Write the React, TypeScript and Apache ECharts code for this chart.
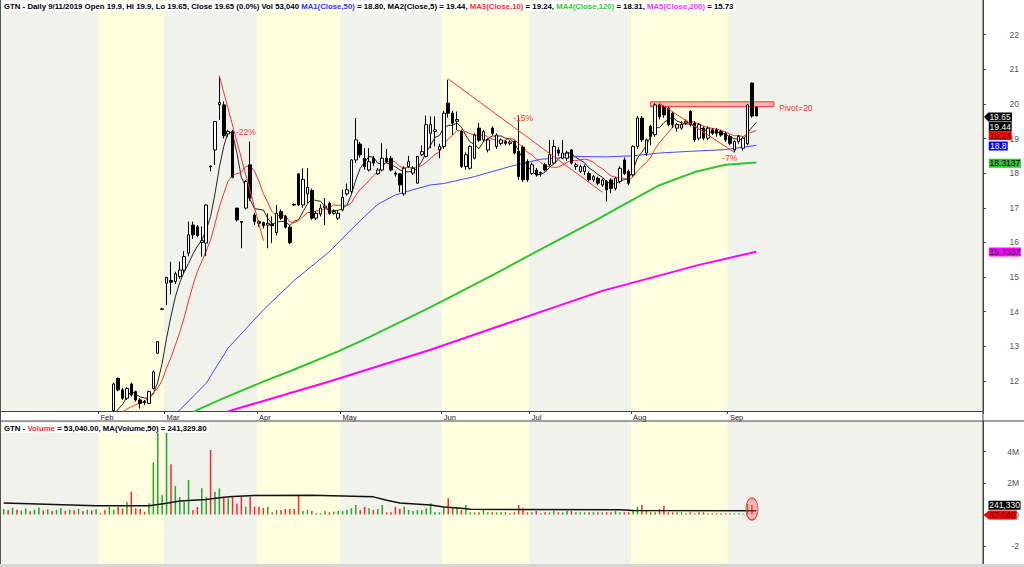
import React, { useEffect, useRef } from 'react';
import * as echarts from 'echarts';

const FONT = '"Liberation Sans", Arial, Helvetica, sans-serif';

// ---- time slots (trading days) per month; Sep row includes empty future slots
const months = ['Jan', 'Feb', 'Mar', 'Apr', 'May', 'Jun', 'Jul', 'Aug', 'Sep'];
const monthSlots = [22, 15, 21, 19, 23, 20, 23, 22, 58];

// ---- daily candles [open, close, low, high]; slots 0-24 lie below the visible price range
const candles: number[][] = [
  [9.6, 9.7, 9.5, 9.8], [9.7, 9.6, 9.5, 9.8], [9.6, 9.9, 9.55, 10.0], [9.9, 9.8, 9.7, 10.0],
  [9.8, 10.0, 9.75, 10.05], [10.0, 10.1, 9.9, 10.2], [10.1, 10.0, 9.9, 10.15], [10.0, 10.2, 9.95, 10.3],
  [10.2, 10.4, 10.1, 10.5], [10.4, 10.3, 10.2, 10.5], [10.3, 10.5, 10.25, 10.6], [10.5, 10.4, 10.3, 10.6],
  [10.4, 10.6, 10.35, 10.7], [10.6, 10.8, 10.5, 10.9], [10.8, 10.7, 10.6, 10.9], [10.7, 10.9, 10.65, 11.0],
  [10.9, 10.8, 10.7, 11.0], [10.8, 11.0, 10.75, 11.05], [11.0, 10.9, 10.8, 11.05], [10.9, 10.95, 10.8, 11.05],
  [10.95, 10.85, 10.75, 11.0], [10.85, 10.9, 10.7, 11.0], [10.9, 10.8, 10.7, 11.0], [10.8, 10.7, 10.6, 10.9],
  [10.7, 10.75, 10.6, 10.9],
  // 25 (Feb)
  [11.14, 11.91, 11.13, 11.95], [12.07, 11.74, 11.7, 12.1], [11.74, 11.5, 11.45, 11.8], [11.5, 11.78, 11.45, 11.82],
  [11.91, 11.59, 11.55, 11.95], [11.69, 11.45, 11.4, 11.72], [11.45, 11.35, 11.2, 11.5], [11.4, 11.37, 11.3, 11.45],
  [11.35, 11.69, 11.33, 11.72], [11.78, 12.26, 11.75, 12.3], [12.8, 13.13, 12.78, 13.15], [14.07, 14.08, 14.05, 14.1],
  // 37 (Mar)
  [14.82, 14.99, 14.19, 15.0], [14.9, 14.85, 14.5, 15.44], [14.87, 15.09, 14.8, 15.15], [15.01, 15.2, 14.95, 15.45],
  [15.2, 15.59, 15.1, 15.75], [15.69, 16.22, 15.6, 16.6], [16.5, 16.22, 16.1, 16.6], [16.45, 16.2, 16.15, 16.5],
  [16.0, 16.05, 15.59, 16.46], [15.98, 17.08, 15.6, 17.1], [18.2, 18.18, 18.05, 18.22], [18.67, 19.49, 18.24, 19.5],
  [19.98, 20.04, 19.54, 20.81], [19.97, 19.08, 19.0, 20.07], [19.13, 19.2, 19.05, 19.25], [19.2, 17.88, 17.85, 19.25],
  [16.99, 16.65, 16.6, 17.0], [16.6, 16.58, 15.83, 16.62], [16.99, 17.76, 16.95, 17.8], [18.24, 17.28, 17.2, 18.91],
  [16.79, 16.6, 16.5, 16.85],
  // 58 (Apr)
  [16.6, 16.55, 16.45, 16.65], [16.57, 16.48, 16.4, 16.6], [16.5, 16.55, 15.83, 16.84], [16.52, 16.48, 15.98, 16.75],
  [16.28, 16.84, 16.2, 17.08], [16.89, 16.7, 16.65, 16.95], [16.75, 16.44, 16.4, 16.8], [16.44, 15.99, 15.95, 16.5],
  [17.1, 17.08, 17.05, 17.12], [17.98, 17.08, 17.05, 18.0], [17.08, 17.82, 17.0, 18.14], [17.4, 17.59, 17.13, 18.14],
  [17.5, 16.7, 16.65, 17.55], [16.7, 16.84, 16.65, 16.9], [16.82, 16.99, 16.75, 17.1], [17.0, 17.05, 16.5, 17.28],
  [17.13, 16.84, 16.8, 17.18], [16.84, 16.89, 16.8, 16.95], [16.7, 16.84, 16.65, 16.9],
  // 77 (May)
  [16.94, 17.3, 16.9, 17.52], [17.4, 17.52, 17.35, 17.7], [17.47, 18.38, 17.4, 18.4], [18.38, 18.96, 18.3, 19.59],
  [18.84, 18.53, 18.45, 18.9], [18.43, 18.19, 18.1, 18.72], [18.09, 18.33, 18.05, 18.72], [18.43, 18.29, 18.2, 18.5],
  [17.98, 18.09, 17.95, 18.15], [18.09, 18.43, 18.05, 18.86], [18.43, 18.33, 18.3, 18.7], [18.43, 18.09, 18.05, 18.5],
  [18.0, 17.97, 17.9, 18.05], [17.98, 17.66, 17.45, 18.0], [17.4, 18.14, 17.35, 18.2], [18.19, 18.33, 18.15, 18.5],
  [18.0, 18.14, 17.95, 18.2], [17.71, 18.48, 17.7, 18.5], [18.53, 18.62, 18.5, 18.8], [18.48, 19.4, 18.45, 19.66],
  [19.15, 19.4, 18.72, 19.64], [19.2, 19.25, 18.77, 19.64], [18.67, 18.77, 18.43, 18.85],
  // 100 (Jun)
  [18.77, 19.73, 18.7, 19.8], [20.02, 19.73, 19.6, 20.7], [19.73, 19.44, 19.1, 19.8], [19.5, 19.55, 19.25, 19.78],
  [19.2, 18.19, 18.15, 19.25], [18.19, 18.53, 18.1, 18.6], [18.14, 18.77, 18.1, 18.8], [18.43, 19.1, 18.4, 19.15],
  [19.3, 18.95, 18.9, 19.45], [18.96, 19.2, 18.9, 19.25], [18.67, 18.96, 18.6, 19.0], [19.3, 19.15, 19.1, 19.35],
  [18.77, 19.1, 18.7, 19.15], [18.86, 18.96, 18.8, 19.0], [18.91, 18.86, 18.8, 18.95], [18.86, 18.9, 18.8, 18.95],
  [18.91, 18.58, 18.55, 18.95], [18.63, 17.9, 17.81, 19.64], [18.75, 17.81, 17.75, 18.8], [18.34, 17.81, 17.75, 18.4],
  // 120 (Jul)
  [17.99, 18.24, 17.95, 18.3], [18.09, 17.95, 17.9, 18.15], [18.0, 18.02, 17.9, 18.05], [18.24, 18.09, 18.05, 18.3],
  [18.24, 18.53, 18.2, 18.96], [18.29, 18.77, 18.25, 18.96], [18.67, 18.58, 18.5, 18.75], [18.43, 18.58, 18.4, 18.96],
  [18.43, 18.58, 18.35, 18.65], [18.67, 18.29, 18.25, 18.7], [18.19, 18.24, 18.1, 18.3], [18.05, 18.19, 18.0, 18.25],
  [18.05, 18.19, 17.95, 18.25], [17.99, 17.81, 17.75, 18.05], [17.81, 17.9, 17.75, 17.95], [17.85, 17.71, 17.65, 17.9],
  [17.66, 17.8, 17.6, 17.85], [17.76, 17.52, 17.18, 17.8], [17.8, 17.56, 17.42, 17.85], [17.56, 17.85, 17.5, 17.9],
  [17.76, 18.14, 17.7, 18.2], [18.38, 17.99, 17.95, 18.45], [18.05, 17.71, 17.65, 18.1],
  // 143 (Aug)
  [17.95, 18.77, 17.9, 18.8], [18.77, 19.59, 18.7, 19.65], [19.59, 18.96, 18.9, 19.65], [18.58, 18.96, 18.5, 19.0],
  [19.35, 19.06, 18.8, 19.4], [19.11, 19.97, 19.05, 20.02], [19.97, 19.63, 19.55, 20.0], [19.92, 19.68, 19.6, 19.97],
  [19.88, 19.4, 19.35, 19.92], [19.73, 19.4, 19.3, 19.78], [19.3, 19.4, 19.2, 19.45], [19.3, 19.4, 19.25, 19.5],
  [19.45, 19.5, 19.4, 19.55], [19.78, 19.4, 19.35, 19.82], [19.44, 18.96, 18.9, 19.5], [19.01, 19.4, 18.95, 19.45],
  [19.3, 19.01, 18.95, 19.35], [19.01, 19.3, 18.95, 19.35], [19.25, 19.15, 19.1, 19.3], [19.25, 19.15, 19.05, 19.3],
  [19.2, 19.1, 19.05, 19.25], [19.15, 18.96, 18.9, 19.2],
  // 165 (Sep)
  [19.06, 18.86, 18.8, 19.1], [18.67, 18.91, 18.6, 18.95], [18.91, 19.06, 18.85, 19.1], [18.72, 19.01, 18.65, 19.05],
  [18.85, 19.97, 18.8, 20.0], [20.6, 19.65, 19.6, 20.62], [19.9, 19.65, 19.65, 19.9],
];

// ---- daily volume, thousands of shares
const volumes: number[] = [
  350, 280, 420, 300, 250, 380, 200, 310, 450, 260, 330, 220, 290, 400, 240, 310, 270, 350, 230, 300, 260, 330,
  75, 290, 490, 300, 490, 390, 810, 1450, 390, 350, 180, 710,
  3310, 5200, 1240, 5200, 3190, 1810, 1100, 810, 2190, 290, 490, 1660, 1130,
  4100, 1450, 1660, 1130, 1030, 1100, 700, 1130, 490, 1130, 490, 490, 420,
  490, 150, 290, 290, 350, 350, 350, 1240, 220, 290, 220, 76, 76,
  220, 140, 180, 220, 220, 290, 390, 600, 290, 490, 390, 290, 350,
  600, 140, 140, 490, 350, 490, 290, 220, 290, 290, 390, 710, 140, 140,
  490, 1030, 430, 430, 290, 600, 140, 140, 140, 290, 140, 140, 140,
  140, 140, 76, 140, 600, 390, 140, 140, 220, 76, 140, 140, 220,
  140, 140, 220, 220, 140, 140, 140, 140, 140, 140, 140, 140, 140,
  220, 140, 140, 140, 220, 490, 600, 290, 140, 140, 350, 560, 140,
  140, 140, 140, 76, 140, 76, 140, 140, 76, 76, 76, 76, 76,
  76, 76, 76, 40, 680, 600, 53.04,
];

// ---- long moving averages: [slot, value]
const ma50Pts: number[][] = [
  [36, 10.75], [40, 11.16], [46, 11.93], [51, 12.95], [59, 14.05], [66, 14.9], [74, 15.73], [78, 16.25],
  [82, 16.75], [85, 17.1], [89, 17.37], [93, 17.52], [97, 17.66], [100, 17.7], [107, 17.9], [115, 18.19],
  [122, 18.4], [130, 18.48], [137, 18.47], [143, 18.5], [149, 18.58], [156, 18.63], [164, 18.68], [171, 18.8],
];
const ma120Pts: number[][] = [
  [40, 10.85], [44, 11.16], [50, 11.5], [59, 11.98], [66, 12.33], [76, 12.85], [82, 13.2], [89, 13.63],
  [97, 14.13], [110, 14.98], [122, 15.8], [135, 16.67], [141, 17.1], [149, 17.65], [157, 18.03], [164, 18.24],
  [171, 18.31],
];
const ma200Pts: number[][] = [
  [46, 10.9], [52, 11.16], [59, 11.42], [74, 11.98], [89, 12.58], [97, 12.9], [113, 13.6], [124, 14.08],
  [136, 14.6], [158, 15.35], [171, 15.73],
];
const volMaPts: number[][] = [
  [0, 730], [21, 560], [33, 560], [37, 720], [40, 850], [46, 950], [49, 1070], [52, 1150], [57, 1210],
  [70, 1220], [84, 1120], [87, 900], [90, 730], [97, 600], [100, 470], [104, 400], [106, 330], [140, 300],
  [143, 250], [171, 241.33],
];

// ---- annotations
const trendLines: number[][][] = [
  [[49, 20.81], [59, 16.05]],
  [[101, 20.72], [136, 17.45]],
  [[149, 20.02], [166, 18.6]],
];
const trendLabels = [
  { slot: 55, value: 19.2, text: '-22%' },
  { slot: 118, value: 19.59, text: '-15%' },
  { slot: 165, value: 18.43, text: '-7%' },
];
const pivot = { from: 147, to: 175, top: 20.06, bottom: 19.92, labelSlot: 180, labelValue: 19.89, text: 'Pivot=20' };

// ---- header / tag values
const lastBar = { date: '9/11/2019', open: '19.9', high: '19.9', low: '19.65', close: '19.65', chg: '0.0%', vol: '53,040' };
const maNames = ['MA1(Close,50)', 'MA2(Close,5)', 'MA3(Close,10)', 'MA4(Close,120)', 'MA5(Close,200)'];
const maHeaderValues = ['18.80', '19.44', '19.24', '18.31', '15.73'];
const maTagValues = [18.8, 19.44, 19.24, 18.3137, 15.7337];
const volHeader = { vol: '53,040.00', ma: '241,329.80', maTag: 241330, volTag: 53040 };

const GREEN = '#22A822';
const RED = '#FF2626';

const categories: string[] = [];
const monthStart = new Set<number>();
months.forEach((m, i) => {
  if (i > 0) monthStart.add(categories.length);
  for (let k = 1; k <= monthSlots[i]; k++) categories.push(`${m} ${k}`);
});

const closes = candles.map((c) => c[1]);
const movingAvg = (n: number) =>
  closes.map((_, i) => {
    if (i < n - 1) return '-';
    let s = 0;
    for (let j = i - n + 1; j <= i; j++) s += closes[j];
    return Number((s / n).toFixed(3));
  });

const lastSlot = candles.length - 1;

function tag(value: number, text: string, bg: string, fg: string, w: number, dx: number, dy: number, arrow = false) {
  return {
    coord: [lastSlot, value],
    symbol: arrow ? 'path://M0,5L5,0L33,0L33,10L5,10Z' : 'rect',
    symbolSize: [w, 9],
    symbolKeepAspect: false,
    symbolOffset: [dx, dy],
    itemStyle: { color: bg, borderWidth: 0 },
    label: {
      show: true,
      position: 'inside',
      formatter: text,
      color: fg,
      fontSize: 8.5,
      fontFamily: FONT,
      offset: arrow ? [2, 0] : [0, 0],
    },
  };
}

function textMark(slot: number, value: number, text: string) {
  return {
    coord: [slot, value],
    symbol: 'rect',
    symbolSize: 1,
    itemStyle: { color: 'rgba(0,0,0,0)' },
    label: { show: true, position: 'inside', formatter: text, color: '#FF3030', fontSize: 8.5, fontFamily: FONT },
  };
}

const lineSeries = (name: string, data: any, color: string, width: number, tagItem: any) => ({
  name,
  type: 'line',
  xAxisIndex: 0,
  yAxisIndex: 0,
  data,
  symbol: 'none',
  smooth: false,
  clip: true,
  lineStyle: { color, width, join: 'round' },
  itemStyle: { color },
  z: 3,
  markPoint: { silent: true, animation: false, data: [tagItem] },
});

export default function App() {
  const ref = useRef<HTMLDivElement>(null);

  useEffect(() => {
    if (!ref.current) return;
    const chart = echarts.init(ref.current, undefined, { renderer: 'svg' });

    const isStart = (idx: number) => monthStart.has(idx);
    const isArea = (idx: number) => idx === 0 || monthStart.has(idx);
    const splitArea = { show: true, interval: isArea, areaStyle: { color: ['#F2F2EC', '#FFFFDF'] } };

    const headerText =
      `{k|GTN - Daily ${lastBar.date} Open ${lastBar.open}, Hi ${lastBar.high}, Lo ${lastBar.low}, Close ${lastBar.close} (${lastBar.chg}) Vol ${lastBar.vol} }` +
      `{b|${maNames[0]}}{k| = ${maHeaderValues[0]}, ${maNames[1]} = ${maHeaderValues[1]}, }` +
      `{r|${maNames[2]}}{k| = ${maHeaderValues[2]}, }{g|${maNames[3]}}{k| = ${maHeaderValues[3]}, }` +
      `{m|${maNames[4]}}{k| = ${maHeaderValues[4]}}`;
    const hs = { fontSize: 7.8, fontFamily: FONT };

    const option: any = {
      animation: false,
      backgroundColor: '#FFFFFF',
      title: [
        {
          text: headerText,
          left: 2,
          top: 1,
          padding: [1, 2],
          backgroundColor: '#FFFFFF',
          textStyle: {
            ...hs,
            color: '#000',
            rich: {
              k: { ...hs, color: '#000' },
              b: { ...hs, color: '#3333FF' },
              r: { ...hs, color: '#FF3030' },
              g: { ...hs, color: '#33CC33' },
              m: { ...hs, color: '#FF33FF' },
            },
          },
        },
        {
          text: `{k|GTN - }{r|Volume}{k| = ${volHeader.vol}, MA(Volume,50) = ${volHeader.ma}}`,
          left: 2,
          top: 423,
          padding: [1, 2],
          backgroundColor: '#FFFFFF',
          textStyle: {
            ...hs,
            rich: { k: { ...hs, color: '#000' }, r: { ...hs, color: '#FF3030' } },
          },
        },
      ],
      grid: [
        { left: 1.5, width: 981.5, top: 0, height: 411, show: true, backgroundColor: '#F2F2EC', borderWidth: 0 },
        { left: 1.5, width: 981.5, top: 421, height: 143, show: true, backgroundColor: '#F2F2EC', borderWidth: 0 },
      ],
      xAxis: [
        {
          type: 'category',
          gridIndex: 0,
          data: categories,
          boundaryGap: true,
          axisLine: { show: true, onZero: false, lineStyle: { color: '#444', width: 1 } },
          axisTick: { show: true, interval: isStart, length: 3, lineStyle: { color: '#444' } },
          axisLabel: {
            show: true,
            interval: isStart,
            formatter: (v: string) => v.split(' ')[0],
            align: 'left',
            margin: 2,
            fontSize: 7.5,
            fontFamily: FONT,
            color: '#222',
          },
          splitLine: { show: false },
          splitArea,
        },
        {
          type: 'category',
          gridIndex: 1,
          data: categories,
          boundaryGap: true,
          axisLine: { show: false },
          axisTick: { show: false },
          axisLabel: { show: false },
          splitLine: { show: false },
          splitArea,
        },
      ],
      yAxis: [
        {
          type: 'value',
          gridIndex: 0,
          position: 'right',
          min: 11.13,
          max: 23.0,
          axisLine: { show: true, lineStyle: { color: '#444' } },
          axisTick: { show: true, length: 3, customValues: [12, 13, 14, 15, 16, 17, 18, 19, 20, 21, 22], lineStyle: { color: '#444' } },
          axisLabel: {
            show: true,
            customValues: [12, 13, 14, 15, 16, 17, 18, 19, 20, 21, 22],
            align: 'right',
            margin: 36,
            fontSize: 8.5,
            fontFamily: FONT,
            color: '#555',
          },
          splitLine: { show: false },
        },
        {
          type: 'value',
          gridIndex: 1,
          position: 'right',
          min: -3143000,
          max: 5937000,
          axisLine: { show: true, lineStyle: { color: '#444' } },
          axisTick: { show: true, length: 3, customValues: [-2000000, 0, 2000000, 4000000], lineStyle: { color: '#444' } },
          axisLabel: {
            show: true,
            customValues: [-2000000, 0, 2000000, 4000000],
            formatter: (v: number) => (v === 0 ? '0' : v < 0 ? `${v / 1000000}` : `${v / 1000000}M`),
            align: 'right',
            margin: 36,
            fontSize: 8.5,
            fontFamily: FONT,
            color: '#555',
          },
          splitLine: { show: false },
        },
      ],
      series: [
        {
          name: 'GTN',
          type: 'candlestick',
          xAxisIndex: 0,
          yAxisIndex: 0,
          data: candles,
          barWidth: 3,
          clip: true,
          z: 4,
          itemStyle: { color: '#FFFFFF', color0: '#000000', borderColor: '#000000', borderColor0: '#000000', borderWidth: 1 },
          markLine: {
            silent: true,
            animation: false,
            symbol: ['none', 'none'],
            lineStyle: { color: '#FF3030', width: 1, type: 'solid' },
            label: { show: false },
            data: trendLines.map(([a, b]) => [{ coord: a }, { coord: b }]),
          },
          markArea: {
            silent: true,
            animation: false,
            itemStyle: { color: 'rgba(255,110,110,0.45)', borderColor: '#FF3030', borderWidth: 1 },
            data: [[{ coord: [pivot.from, pivot.top] }, { coord: [pivot.to, pivot.bottom] }]],
          },
          markPoint: {
            silent: true,
            animation: false,
            data: [
              tag(candles[lastSlot][1], lastBar.close, '#000000', '#FFFFFF', 28, 241.7, 1, true),
              ...trendLabels.map((t) => textMark(t.slot, t.value, t.text)),
              textMark(pivot.labelSlot, pivot.labelValue, pivot.text),
            ],
          },
        },
        lineSeries('MA2', movingAvg(5), '#222222', 1, tag(maTagValues[1], '19.44', '#000000', '#FFFFFF', 23, 243.9, 3.3)),
        lineSeries('MA3', movingAvg(10), '#FF3030', 1, tag(maTagValues[2], '19.24', '#FF0000', '#500000', 23, 243.9, 5.4)),
        lineSeries('MA1', ma50Pts, '#4646FF', 1, tag(maTagValues[0], '18.8', '#0000FF', '#FFFFFF', 19, 241.9, 0.6)),
        lineSeries('MA4', ma120Pts, '#2FC42F', 2, tag(maTagValues[3], '18.3137', '#2FC42F', '#000000', 32, 248.6, 1.1)),
        lineSeries('MA5', ma200Pts, '#FF00FF', 2, tag(maTagValues[4], '15.7337', '#FF00FF', '#000000', 32, 248.6, 0.5)),
        {
          name: 'Volume',
          type: 'bar',
          xAxisIndex: 1,
          yAxisIndex: 1,
          barWidth: 1.5,
          data: volumes.map((v, i) => ({
            value: v * 1000,
            itemStyle: { color: candles[i][1] >= candles[i][0] ? GREEN : RED },
          })),
          markPoint: {
            silent: true,
            animation: false,
            data: [
              {
                coord: [lastSlot - 1, 350000],
                symbol: 'circle',
                symbolSize: [12, 22],
                itemStyle: { color: 'rgba(255,80,80,0.35)', borderColor: '#FF2020', borderWidth: 1 },
                label: { show: false },
              },
              {
                ...tag(volHeader.volTag, '53,040', '#FF0000', '#500000', 33, 243.9, 1.3, true),
                coord: [lastSlot, volHeader.volTag],
              },
            ],
          },
        },
        {
          name: 'VolMA',
          type: 'line',
          xAxisIndex: 1,
          yAxisIndex: 1,
          data: volMaPts.map(([s, v]) => [s, v * 1000]),
          symbol: 'none',
          lineStyle: { color: '#111', width: 1.5 },
          z: 3,
          markPoint: {
            silent: true,
            animation: false,
            data: [
              {
                ...tag(volHeader.maTag, '241,330', '#000000', '#FFFFFF', 32, 248.2, -5.5),
                coord: [lastSlot, volHeader.maTag],
              },
            ],
          },
        },
      ],
      graphic: [
        { type: 'line', shape: { x1: 0.5, y1: 0, x2: 0.5, y2: 564 }, style: { stroke: '#555', lineWidth: 1 }, z: 10 },
        { type: 'line', shape: { x1: 983, y1: 0, x2: 983, y2: 564 }, style: { stroke: '#444', lineWidth: 1 }, z: 10 },
        { type: 'line', shape: { x1: 0, y1: 421, x2: 1024, y2: 421 }, style: { stroke: '#444', lineWidth: 1 }, z: 10 },
        { type: 'rect', shape: { x: 0, y: 564, width: 1024, height: 3 }, style: { fill: '#D6D6D6' }, z: 10 },
      ],
    };

    chart.setOption(option);
    return () => chart.dispose();
  }, []);

  return <div ref={ref} style={{ position: 'fixed', left: 0, top: 0, width: 1024, height: 567 }} />;
}
